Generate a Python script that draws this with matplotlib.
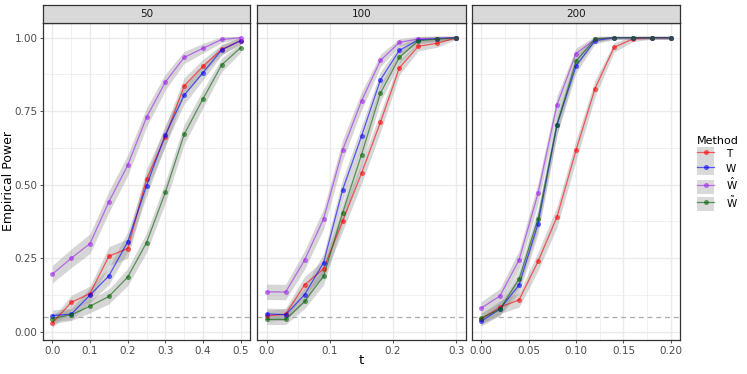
import numpy as np
import matplotlib
matplotlib.use("Agg")
import matplotlib.pyplot as plt
from matplotlib.lines import Line2D
from matplotlib.patches import Patch
from matplotlib.legend_handler import HandlerTuple

# Data: empirical power per method, for each sample size panel
panels = ["50", "100", "200"]
t_50 = [0.0, 0.05, 0.1, 0.15, 0.2, 0.25, 0.3, 0.35, 0.4, 0.45, 0.5]
t_100 = [0.0, 0.03, 0.06, 0.09, 0.12, 0.15, 0.18, 0.21, 0.24, 0.27, 0.3]
t_200 = [0.0, 0.02, 0.04, 0.06, 0.08, 0.1, 0.12, 0.14, 0.16, 0.18, 0.2]

T_50 = [0.03, 0.10, 0.13, 0.257, 0.283, 0.518, 0.663, 0.836, 0.903, 0.96, 0.99]
W_50 = [0.055, 0.06, 0.125, 0.19, 0.306, 0.497, 0.67, 0.804, 0.881, 0.959, 0.99]
What_50 = [0.196, 0.25, 0.30, 0.442, 0.566, 0.729, 0.849, 0.933, 0.964, 0.994, 1.0]
Wtil_50 = [0.045, 0.058, 0.087, 0.12, 0.186, 0.303, 0.474, 0.671, 0.792, 0.908, 0.966]

T_100 = [0.054, 0.06, 0.16, 0.214, 0.376, 0.539, 0.713, 0.898, 0.971, 0.981, 1.0]
W_100 = [0.061, 0.058, 0.126, 0.235, 0.482, 0.665, 0.857, 0.957, 0.993, 0.997, 1.0]
What_100 = [0.136, 0.135, 0.244, 0.384, 0.617, 0.785, 0.923, 0.984, 0.996, 0.997, 1.0]
Wtil_100 = [0.042, 0.042, 0.103, 0.189, 0.404, 0.602, 0.812, 0.933, 0.99, 0.995, 1.0]

T_200 = [0.043, 0.084, 0.108, 0.239, 0.391, 0.617, 0.827, 0.967, 0.996, 1.0, 1.0]
W_200 = [0.035, 0.078, 0.159, 0.367, 0.704, 0.904, 0.99, 1.0, 1.0, 1.0, 1.0]
What_200 = [0.08, 0.122, 0.244, 0.471, 0.772, 0.946, 0.995, 1.0, 1.0, 1.0, 1.0]
Wtil_200 = [0.046, 0.077, 0.179, 0.384, 0.704, 0.92, 0.996, 1.0, 1.0, 1.0, 1.0]

n_reps = 1000  # replications used for the binomial confidence band

methods = ["T", "W", r"$\hat{\mathrm{W}}$", r"$\tilde{\mathrm{W}}$"]
colors = ["#FF0000", "#0000FF", "#A020F0", "#006400"]

data = {
    "50": (t_50, [T_50, W_50, What_50, Wtil_50]),
    "100": (t_100, [T_100, W_100, What_100, Wtil_100]),
    "200": (t_200, [T_200, W_200, What_200, Wtil_200]),
}

xlims = {"50": (-0.025, 0.525), "100": (-0.0153, 0.3153), "200": (-0.0095, 0.2095)}
xmajor = {"50": np.arange(0, 0.51, 0.1), "100": np.arange(0, 0.31, 0.1), "200": np.arange(0, 0.201, 0.05)}
xminor = {"50": np.arange(0.05, 0.5, 0.1), "100": np.arange(0.05, 0.3, 0.1), "200": np.arange(0.025, 0.2, 0.05)}
xfmt = {"50": "{:.1f}", "100": "{:.1f}", "200": "{:.2f}"}

W, H = 747, 374
fig = plt.figure(figsize=(W / 100, H / 100), dpi=100)
fig.patch.set_facecolor("white")

lefts = [43, 257, 472]
widths = [207, 209, 208]
top, bottom, strip_top = 23, 340, 5

for i, key in enumerate(panels):
    ax = fig.add_axes([lefts[i] / W, (H - bottom) / H, widths[i] / W, (bottom - top) / H])
    t, series = data[key]
    t = np.array(t)
    for ys in series:
        p = np.array(ys)
        half = 1.96 * np.sqrt(p * (1 - p) / n_reps) + 0.005
        ax.fill_between(t, p - half, np.minimum(p + half, 1.006), color="#999999", alpha=0.4,
                        linewidth=0, zorder=1)
    ax.axhline(0.05, color="#AAAAAA", linestyle=(0, (4, 3)), linewidth=0.9, zorder=2)
    for ys, c in zip(series, colors):
        ax.plot(t, ys, color=c, alpha=0.6, linewidth=0.9, marker="o", markersize=3.6,
                markeredgewidth=0, zorder=3)

    ax.set_xlim(*xlims[key])
    ax.set_ylim(-0.028, 1.05)
    ax.set_xticks(xmajor[key])
    ax.set_xticklabels([xfmt[key].format(v) for v in xmajor[key]])
    ax.set_xticks(xminor[key], minor=True)
    ax.set_yticks([0, 0.25, 0.5, 0.75, 1.0])
    ax.set_yticks([0.125, 0.375, 0.625, 0.875], minor=True)
    if i == 0:
        ax.set_yticklabels(["0.00", "0.25", "0.50", "0.75", "1.00"])
    else:
        ax.set_yticklabels([])
    ax.grid(which="major", color="#EBEBEB", linewidth=1.0)
    ax.grid(which="minor", color="#EBEBEB", linewidth=0.5)
    ax.set_axisbelow(True)
    ax.tick_params(which="major", length=2.5, width=0.6, color="#333333",
                   labelsize=7.5, labelcolor="#4D4D4D", pad=1.5)
    ax.tick_params(which="minor", length=0)
    if i > 0:
        ax.tick_params(axis="y", which="major", length=0)
    for s in ax.spines.values():
        s.set_color("#333333")
        s.set_linewidth(0.9)

    sax = fig.add_axes([lefts[i] / W, (H - top) / H, widths[i] / W, (top - strip_top) / H])
    sax.set_facecolor("#D9D9D9")
    sax.set_xticks([])
    sax.set_yticks([])
    for s in sax.spines.values():
        s.set_color("#333333")
        s.set_linewidth(0.9)
    sax.text(0.5, 0.5, key, ha="center", va="center", fontsize=7.5, color="#1A1A1A",
             transform=sax.transAxes)

fig.text(8.5 / W, 1 - 181 / H, "Empirical Power", ha="center", va="center", rotation=90,
         fontsize=9)
fig.text(361 / W, 1 - 361 / H, "t", ha="center", va="center", fontsize=9.5)

handles = [(Patch(facecolor="#D9D9D9", edgecolor="none"),
            Line2D([], [], color=c, alpha=0.6, linewidth=0.9, marker="o", markersize=3.6,
                   markeredgewidth=0)) for c in colors]
leg = fig.legend(handles, methods, title="Method", loc="upper left",
                 bbox_to_anchor=(697 / W, 1 - 136 / H), frameon=False, fontsize=7.5,
                 title_fontsize=8, handler_map={tuple: HandlerTuple(ndivide=1, pad=0)},
                 handlelength=1.65, handleheight=1.65, labelspacing=0.08, handletextpad=1.1,
                 borderaxespad=0, borderpad=0)
leg._legend_box.align = "left"

fig.savefig("out.png", dpi=100)
